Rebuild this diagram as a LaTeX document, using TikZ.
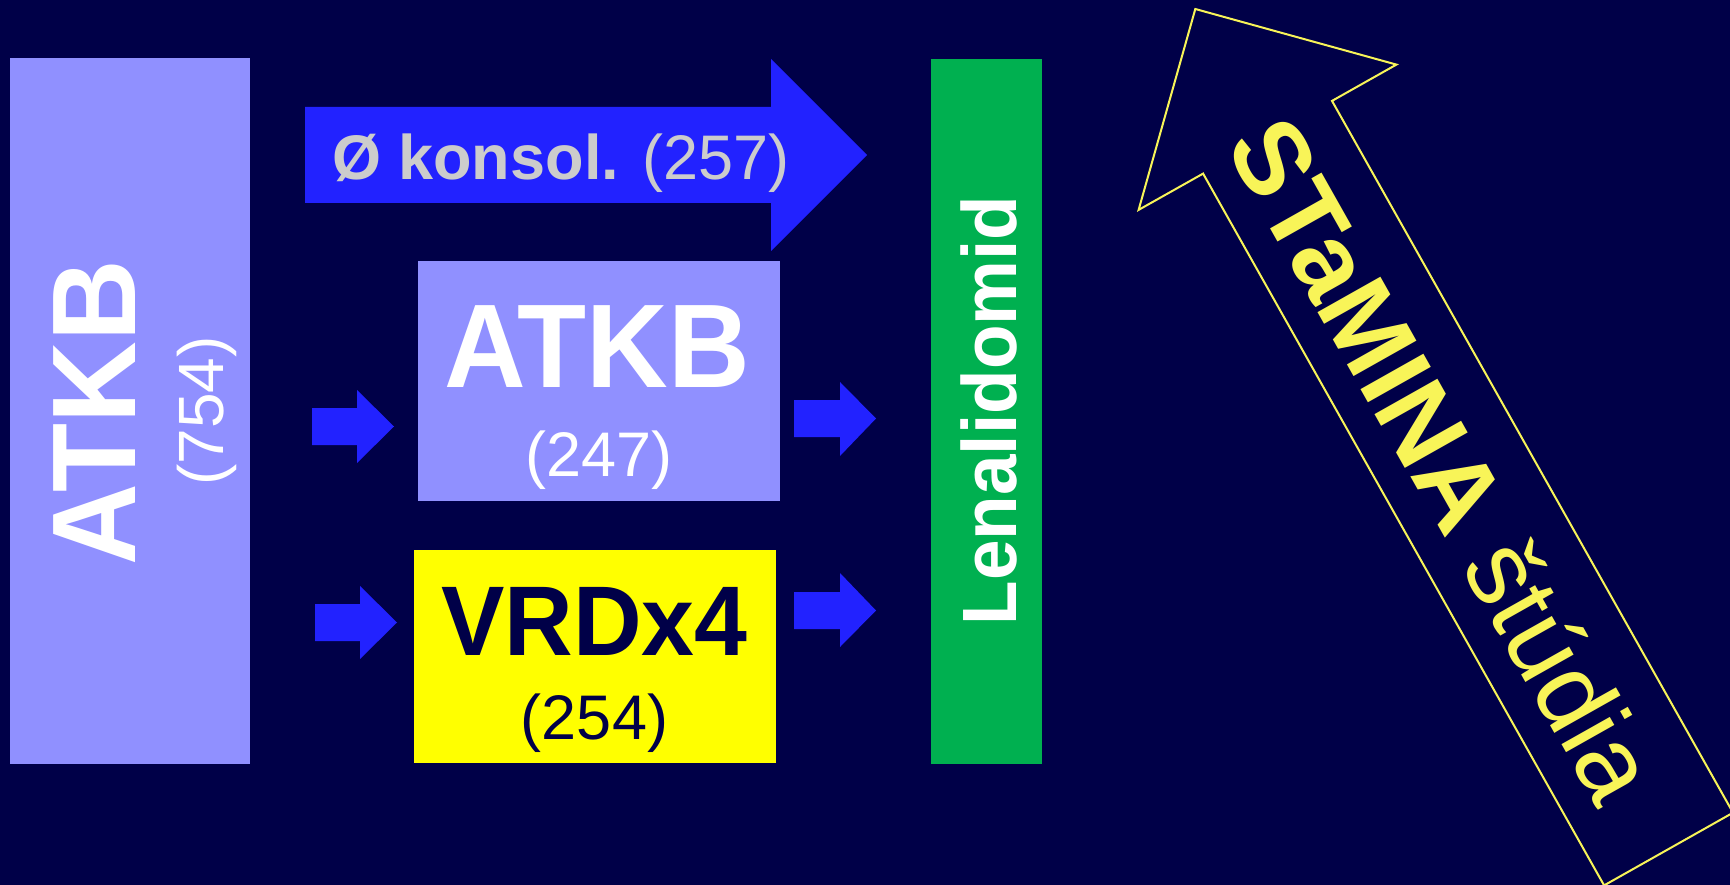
\documentclass[tikz,border=0pt]{standalone}
\usepackage{fontspec}
\setmainfont{Liberation Sans}
\definecolor{bg}{RGB}{0,0,72}
\definecolor{lilac}{RGB}{144,144,255}
\definecolor{arrowblue}{RGB}{34,34,255}
\definecolor{lgreen}{RGB}{0,176,80}
\definecolor{ybox}{RGB}{255,255,0}
\definecolor{ytext}{RGB}{248,244,88}
\definecolor{lgray}{RGB}{204,204,204}
\newcommand{\setfsz}[1]{\fontsize{#1}{#1}\selectfont}
\begin{document}
\begin{tikzpicture}[x=1pt,y=-1pt,
  box/.style={rectangle, inner sep=0, outer sep=0, draw=none},
  lbl/.style={inner sep=0, outer sep=0, anchor=base},
  blk/.style={fill=arrowblue, draw=none}]
\useasboundingbox (0,0) rectangle (1730,885);
\fill[bg] (0,0) rectangle (1730,885);

% boxes
\node[box, fill=lilac, minimum width=240, minimum height=706] (atkbA) at (130,411) {};
\node[box, fill=lilac, minimum width=362, minimum height=240] (atkbB) at (599,381) {};
\node[box, fill=ybox, minimum width=362, minimum height=213] (vrd) at (595,656.5) {};
\node[box, fill=lgreen, minimum width=111, minimum height=705] (lena) at (986.5,411.5) {};

% big top arrow
\fill[blk] (305,107) -- (771,107) -- (771,59) -- (867,155) -- (771,251) -- (771,203) -- (305,203) -- cycle;
\node[lbl, anchor=base west, text=lgray] (kons) at (332,180) {\setfsz{63}\textbf{Ø konsol.} (257)};

% small arrows
\fill[blk] (312,408) -- (357,408) -- (357,390) -- (394,426.5) -- (357,463) -- (357,445) -- (312,445) -- cycle;
\fill[blk] (315,604) -- (360,604) -- (360,586) -- (397,622.5) -- (360,659) -- (360,641) -- (315,641) -- cycle;
\fill[blk] (794,400) -- (840,400) -- (840,382) -- (876,418.5) -- (840,456) -- (840,437) -- (794,437) -- cycle;
\fill[blk] (794,592) -- (840,592) -- (840,573) -- (876,610.5) -- (840,647) -- (840,629) -- (794,629) -- cycle;

% texts
\node[lbl, rotate=90, text=white] (tA) at (135,413) {\setfsz{119}\scalebox{0.95}[1]{\bfseries ATKB}};
\node[lbl, rotate=90, text=white] (nA) at (223,411) {\setfsz{64}(754)};
\node[lbl, text=white] (tB) at (597,387) {\setfsz{119}\scalebox{0.95}[1]{\bfseries ATKB}};
\node[lbl, text=white] (nB) at (599,476) {\setfsz{63}(247)};
\node[lbl, text=bg] (tV) at (594.5,655) {\setfsz{99}\scalebox{0.96}[1]{\bfseries VRDx4}};
\node[lbl, text=bg] (nV) at (594.5,739) {\setfsz{63}(254)};
\node[lbl, rotate=90, text=white] (tL) at (1016,410.5) {\setfsz{77}\scalebox{0.947}[1]{\bfseries Lenalidomid}};

% STaMINA arrow
\begin{scope}
\clip (0,0) rectangle (1730,885);
\draw[ytext, line width=2, line join=miter] (1195.3,9) -- (1396.4,64.6) -- (1332,100.9) -- (1733,812.7) -- (1604.1,885.4) -- (1203.1,173.6) -- (1138.6,209.9) -- cycle;
\end{scope}
\node[lbl, anchor=base west, rotate=-60.6, text=ytext] (stamina) at (1224,146) {\setfsz{105}\textbf{STaMINA} štúdia};
\end{tikzpicture}
\end{document}
